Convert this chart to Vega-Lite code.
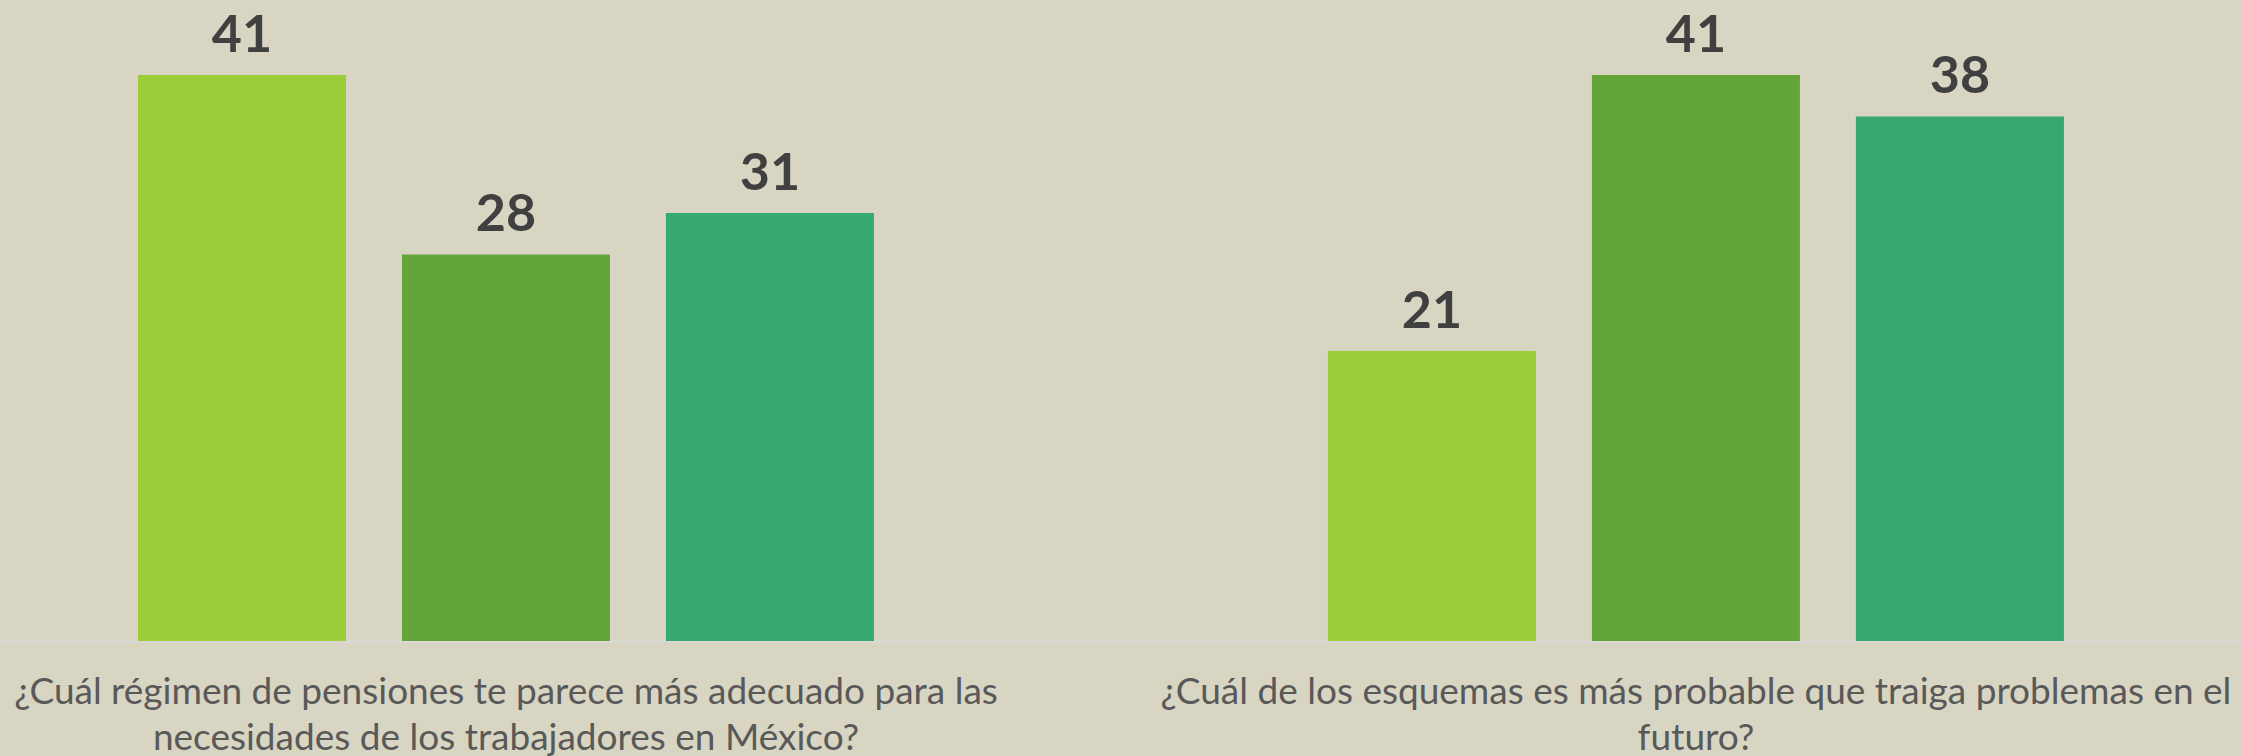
{
  "$schema": "https://vega.github.io/schema/vega-lite/v6.json",
  "width": 2241,
  "height": 641,
  "autosize": {"type": "none"},
  "padding": {"left": 0, "top": 0, "right": 0, "bottom": 115},
  "background": "#D8D5C3",
  "config": {"view": {"stroke": null}},
  "data": {
    "values": [
      {"pregunta": "¿Cuál régimen de pensiones te parece más adecuado para las|necesidades de los trabajadores en México?", "serie": "A", "valor": 41},
      {"pregunta": "¿Cuál régimen de pensiones te parece más adecuado para las|necesidades de los trabajadores en México?", "serie": "B", "valor": 28},
      {"pregunta": "¿Cuál régimen de pensiones te parece más adecuado para las|necesidades de los trabajadores en México?", "serie": "C", "valor": 31},
      {"pregunta": "¿Cuál de los esquemas es más probable que traiga problemas en el|futuro?", "serie": "A", "valor": 21},
      {"pregunta": "¿Cuál de los esquemas es más probable que traiga problemas en el|futuro?", "serie": "B", "valor": 41},
      {"pregunta": "¿Cuál de los esquemas es más probable que traiga problemas en el|futuro?", "serie": "C", "valor": 38}
    ]
  },
  "encoding": {
    "x": {
      "field": "pregunta",
      "type": "nominal",
      "sort": null,
      "scale": {"paddingInner": 0.3815, "paddingOuter": 0.1324, "align": 0.438},
      "axis": {
        "title": null,
        "labelAngle": 0,
        "labelExpr": "split(datum.label, '|')",
        "labelFont": "Lato",
        "labelFontSize": 37,
        "labelColor": "#595959",
        "labelLimit": 0,
        "labelBaseline": "top",
        "labelPadding": 33,
        "labelLineHeight": 46,
        "ticks": false,
        "domainColor": "#D9D9D9",
        "domainWidth": 2,
        "grid": false
      }
    },
    "xOffset": {"field": "serie", "type": "nominal", "scale": {"paddingInner": 0.212, "paddingOuter": 0}},
    "y": {
      "field": "valor",
      "type": "quantitative",
      "scale": {"domain": [0, 46.43], "nice": false, "zero": true},
      "axis": null
    }
  },
  "layer": [
    {
      "mark": {"type": "bar"},
      "encoding": {
        "color": {
          "field": "serie",
          "type": "nominal",
          "scale": {"domain": ["A", "B", "C"], "range": ["#9ACD38", "#63A538", "#37A86E"]},
          "legend": null
        }
      }
    },
    {
      "mark": {"type": "text", "baseline": "alphabetic", "dy": -23, "font": "Lato", "fontWeight": "bold", "fontSize": 52, "color": "#404040"},
      "encoding": {"text": {"field": "valor", "type": "quantitative"}}
    }
  ]
}
